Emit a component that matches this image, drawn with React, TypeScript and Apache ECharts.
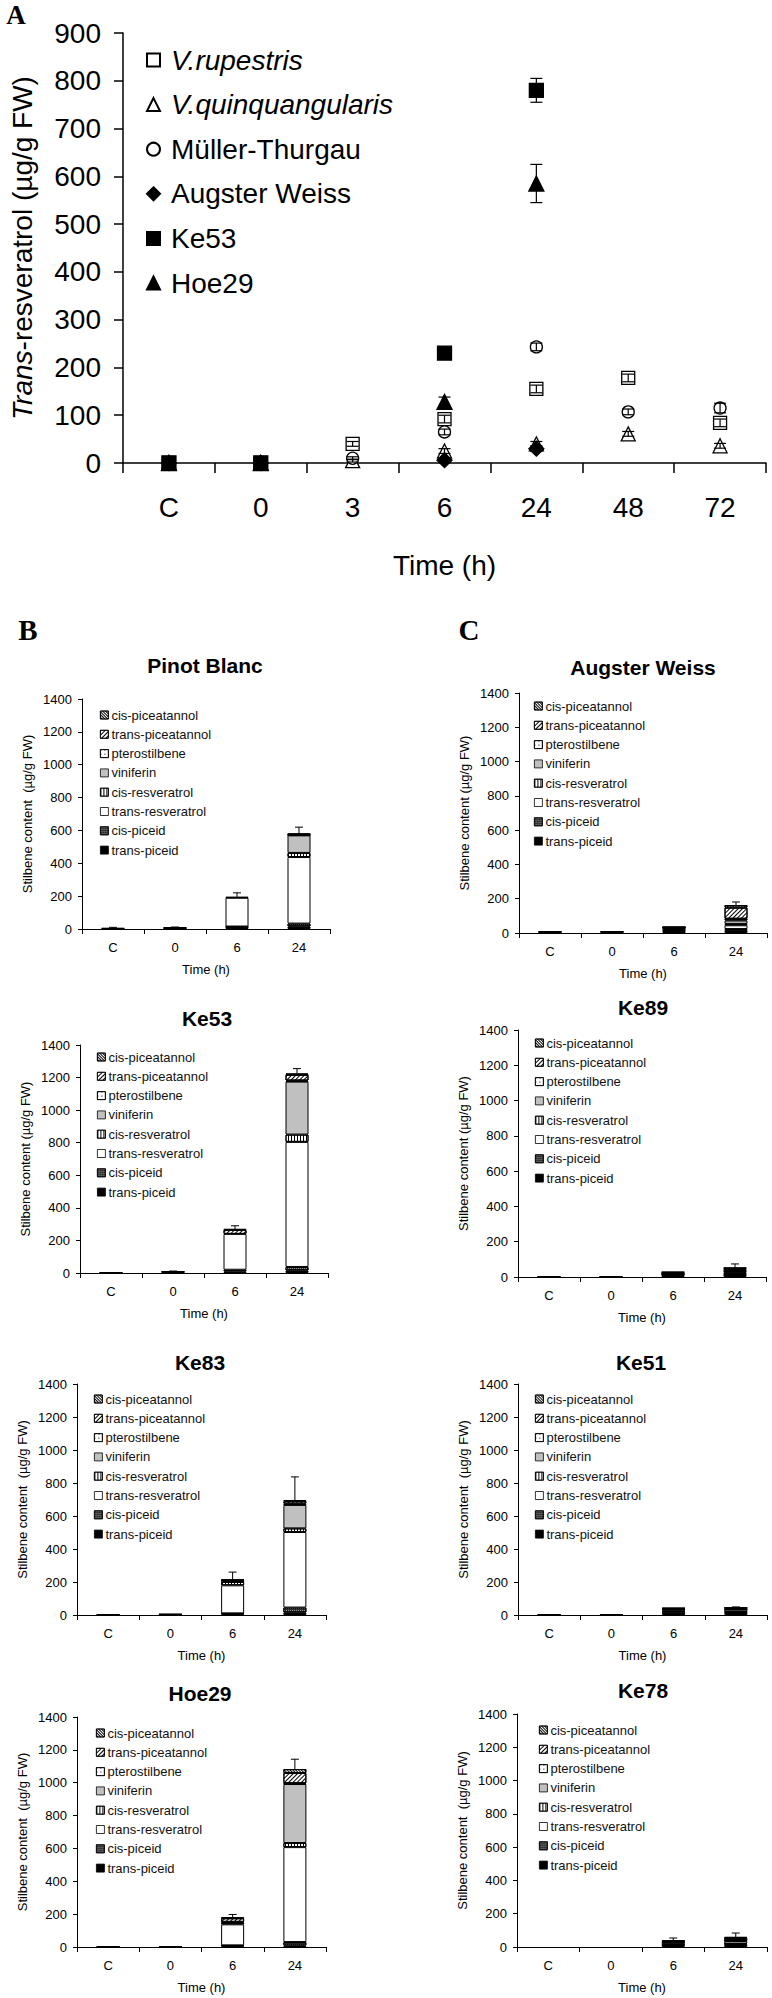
import React, { useEffect, useRef } from 'react';
import * as echarts from 'echarts';

// ---------- Panel A data ----------
const TIME_A = ['C', '0', '3', '6', '24', '48', '72'];
const GENOTYPES_A = ['V.rupestris', 'V.quinquangularis', 'Müller-Thurgau', 'Augster Weiss', 'Ke53', 'Hoe29'];
const Y_TICKS_A = [0, 900, 100];

const vRupestris = [0, 0, 40, 92, 155, 178, 84];
const vRupestrisErr = [0, 0, 5, 8, 8, 8, 8];
const vQuinquangularis = [0, 0, 5, 25, 40, 61, 36];
const vQuinquangularisErr = [0, 0, 3, 5, 5, 5, 5];
const mullerThurgau = [0, 0, 10, 65, 243, 107, 115];
const mullerThurgauErr = [0, 0, 3, 6, 8, 6, 10];
const augsterWeissA = [0, 0, null, 6, 30, null, null];
const augsterWeissAErr = [0, 0, 0, 4, 6, 0, 0];
const ke53A = [0, 0, null, 230, 780, null, null];
const ke53AErr = [0, 0, 0, 12, 25, 0, 0];
const hoe29A = [0, 0, null, 128, 585, null, null];
const hoe29AErr = [0, 0, 0, 10, 40, 0, 0];

// ---------- Panels B / C data ----------
const TIME_B = ['C', '0', '6', '24'];
const Y_TICKS_B = [0, 1400, 200];
// stacking order (bottom -> top)
const COMPOUNDS = ['trans-piceid', 'cis-piceid', 'trans-resveratrol', 'cis-resveratrol', 'viniferin', 'pterostilbene', 'trans-piceatannol', 'cis-piceatannol'];
const LEGEND_ORDER = ['cis-piceatannol', 'trans-piceatannol', 'pterostilbene', 'viniferin', 'cis-resveratrol', 'trans-resveratrol', 'cis-piceid', 'trans-piceid'];

// rows follow COMPOUNDS, columns follow TIME_B
const pinotBlanc = [
  [3, 5, 12, 15],
  [0, 1, 3, 18],
  [2, 4, 175, 405],
  [0, 0, 5, 25],
  [0, 0, 0, 107],
  [0, 0, 0, 3],
  [0, 0, 0, 3],
  [0, 0, 0, 4],
];
const pinotBlancErr = [5, 2, 25, 40];

const ke53 = [
  [2, 5, 10, 15],
  [0, 2, 10, 22],
  [1, 3, 220, 768],
  [0, 0, 0, 45],
  [0, 0, 0, 325],
  [0, 0, 0, 7],
  [0, 0, 25, 35],
  [0, 0, 5, 8],
];
const ke53Err = [0, 2, 20, 30];

const ke83 = [
  [2, 3, 8, 15],
  [0, 1, 2, 30],
  [1, 1, 170, 458],
  [0, 0, 20, 22],
  [0, 0, 0, 142],
  [0, 0, 0, 8],
  [0, 0, 12, 15],
  [0, 0, 3, 7],
];
const ke83Err = [0, 0, 45, 140];

const hoe29 = [
  [2, 2, 8, 10],
  [0, 0, 2, 20],
  [1, 1, 128, 578],
  [0, 0, 10, 25],
  [0, 0, 0, 359],
  [0, 0, 5, 5],
  [0, 0, 22, 62],
  [0, 0, 5, 24],
];
const hoe29Err = [0, 0, 18, 60];

const augsterWeiss = [
  [6, 6, 28, 18],
  [1, 1, 2, 5],
  [1, 1, 2, 22],
  [0, 0, 1, 8],
  [0, 0, 0, 20],
  [0, 0, 0, 10],
  [0, 0, 2, 65],
  [0, 0, 0, 15],
];
const augsterWeissErr = [0, 0, 0, 18];

const ke89 = [
  [2, 2, 12, 15],
  [0, 0, 2, 3],
  [1, 1, 4, 6],
  [0, 0, 2, 10],
  [0, 0, 0, 2],
  [0, 0, 0, 5],
  [0, 0, 6, 8],
  [0, 0, 2, 3],
];
const ke89Err = [0, 0, 0, 22];

const ke51 = [
  [2, 2, 20, 18],
  [0, 0, 3, 3],
  [1, 1, 10, 12],
  [0, 0, 2, 2],
  [0, 0, 0, 0],
  [0, 0, 0, 0],
  [0, 0, 5, 8],
  [0, 0, 2, 2],
];
const ke51Err = [0, 0, 0, 4];

const ke78 = [
  [0, 0, 15, 18],
  [0, 0, 2, 3],
  [0, 0, 10, 15],
  [0, 0, 2, 3],
  [0, 0, 0, 2],
  [0, 0, 0, 2],
  [0, 0, 8, 12],
  [0, 0, 3, 5],
];
const ke78Err = [0, 0, 14, 24];

// ---------- layout / style ----------
const SANS = '"Liberation Sans", Arial, sans-serif';
const SERIF = '"Liberation Serif", "Times New Roman", serif';
const Y1 = 'Stilbene content (µg/g FW)';
const Y2 = 'Stilbene content  (µg/g FW)';

const PANELS = [
  { title: 'Pinot Blanc', values: pinotBlanc, err: pinotBlancErr, yName: Y2, grid: { left: 82, top: 699, width: 248, height: 230 }, tp: [205, 665], lp: [100, 715] },
  { title: 'Ke53', values: ke53, err: ke53Err, yName: Y1, grid: { left: 80, top: 1045, width: 248, height: 228 }, tp: [207, 1018], lp: [97, 1057] },
  { title: 'Ke83', values: ke83, err: ke83Err, yName: Y2, grid: { left: 77, top: 1384, width: 249, height: 231 }, tp: [200, 1362], lp: [94, 1399] },
  { title: 'Hoe29', values: hoe29, err: hoe29Err, yName: Y2, grid: { left: 77, top: 1717, width: 249, height: 230 }, tp: [200, 1693], lp: [96, 1733] },
  { title: 'Augster Weiss', values: augsterWeiss, err: augsterWeissErr, yName: Y1, grid: { left: 519, top: 693, width: 248, height: 240 }, tp: [643, 667], lp: [534, 706] },
  { title: 'Ke89', values: ke89, err: ke89Err, yName: Y1, grid: { left: 518, top: 1030, width: 248, height: 247 }, tp: [643, 1007], lp: [535, 1043] },
  { title: 'Ke51', values: ke51, err: ke51Err, yName: Y2, grid: { left: 518, top: 1384, width: 249, height: 231 }, tp: [641, 1362], lp: [535, 1399] },
  { title: 'Ke78', values: ke78, err: ke78Err, yName: Y2, grid: { left: 517, top: 1714, width: 250, height: 233 }, tp: [643, 1690], lp: [539, 1730] },
];

const line = (rot: number, gap = 2) => ({
  symbol: 'rect', symbolSize: 1, color: '#000', dashArrayX: [1, 0], dashArrayY: [1, gap], rotation: rot,
});

const COMPOUND_STYLE: Record<string, any> = {
  'trans-piceid': { color: '#000' },
  'cis-piceid': { color: '#2a2a2a', decal: { symbol: 'rect', symbolSize: 1, color: '#9a9a9a', dashArrayX: [1, 1], dashArrayY: [1, 1] } },
  'trans-resveratrol': { color: '#fff' },
  'cis-resveratrol': { color: '#fff', decal: { symbol: 'rect', symbolSize: 1, color: '#000', dashArrayX: [1, 2], dashArrayY: [1, 0] } },
  'viniferin': { color: '#c0c0c0' },
  'pterostilbene': { color: '#fff', decal: { symbol: 'rect', symbolSize: 1, color: '#000', dashArrayX: [1, 3], dashArrayY: [1, 3] } },
  'trans-piceatannol': { color: '#fff', decal: line(-Math.PI / 4, 2) },
  'cis-piceatannol': { color: '#fff', decal: line(Math.PI / 4, 1) },
};

const A_SERIES = [
  { name: GENOTYPES_A[0], data: vRupestris, err: vRupestrisErr, symbol: 'rect', size: 13, fill: '#fff' },
  { name: GENOTYPES_A[1], data: vQuinquangularis, err: vQuinquangularisErr, symbol: 'triangle', size: 14, fill: '#fff' },
  { name: GENOTYPES_A[2], data: mullerThurgau, err: mullerThurgauErr, symbol: 'circle', size: 12, fill: '#fff' },
  { name: GENOTYPES_A[3], data: augsterWeissA, err: augsterWeissAErr, symbol: 'diamond', size: 15, fill: '#000' },
  { name: GENOTYPES_A[4], data: ke53A, err: ke53AErr, symbol: 'rect', size: 14, fill: '#000' },
  { name: GENOTYPES_A[5], data: hoe29A, err: hoe29AErr, symbol: 'triangle', size: 15, fill: '#000' },
];

function buildOption() {
  const grid: any[] = [{ left: 120, top: 33, width: 646, height: 430 }];
  const xAxis: any[] = [{
    type: 'category', gridIndex: 0, data: TIME_A, boundaryGap: true,
    axisLine: { show: true, lineStyle: { color: '#000', width: 1.5 } },
    axisTick: { show: true, length: 10, interval: 0, alignWithLabel: false, lineStyle: { color: '#000', width: 1.5 } },
    axisLabel: { fontSize: 28, color: '#000', margin: 30, fontFamily: SANS, interval: 0 },
    name: 'Time (h)', nameLocation: 'middle', nameGap: 88,
    nameTextStyle: { fontSize: 28, color: '#000', fontFamily: SANS },
  }];
  const yAxis: any[] = [{
    type: 'value', gridIndex: 0, min: Y_TICKS_A[0], max: Y_TICKS_A[1], interval: Y_TICKS_A[2],
    axisLine: { show: true, lineStyle: { color: '#000', width: 1.5 } },
    axisTick: { show: true, length: 9, lineStyle: { color: '#000', width: 1.5 } },
    splitLine: { show: false },
    axisLabel: { fontSize: 28, color: '#000', margin: 22, fontFamily: SANS, formatter: (v: number) => String(v) },
    name: '{i|Trans}-resveratrol (µg/g FW)', nameLocation: 'middle', nameGap: 87,
    nameTextStyle: { fontSize: 28, color: '#000', fontFamily: SANS, rich: { i: { fontSize: 28, fontStyle: 'italic', color: '#000', fontFamily: SANS } } },
  }];
  const series: any[] = [];
  const legend: any[] = [];
  const graphic: any[] = [];

  A_SERIES.forEach((s) => {
    series.push({
      type: 'scatter', name: s.name, xAxisIndex: 0, yAxisIndex: 0,
      symbol: s.symbol, symbolSize: s.size,
      data: s.data.map((v, i) => (v == null ? null : [i, v])).filter((d) => d),
      itemStyle: { color: s.fill, borderColor: '#000', borderWidth: 1.3, opacity: 1 },
      emphasis: { disabled: true },
    });
  });
  A_SERIES.forEach((s) => {
    const ed = s.data.map((v, i) => (v == null || !s.err[i] ? null : [i, v, s.err[i]])).filter((d) => d);
    series.push({
      type: 'custom', name: s.name + '-err', xAxisIndex: 0, yAxisIndex: 0, z: 5, silent: true,
      data: ed,
      renderItem: (params: any, api: any) => {
        const i = api.value(0), v = api.value(1), e = api.value(2);
        const lo = api.coord([i, v - e]);
        const hi = api.coord([i, v + e]);
        const st = { stroke: '#000', lineWidth: 1.2 };
        return {
          type: 'group', children: [
            { type: 'line', shape: { x1: lo[0], y1: lo[1], x2: hi[0], y2: hi[1] }, style: st },
            { type: 'line', shape: { x1: hi[0] - 6, y1: hi[1], x2: hi[0] + 6, y2: hi[1] }, style: st },
            { type: 'line', shape: { x1: lo[0] - 6, y1: lo[1], x2: lo[0] + 6, y2: lo[1] }, style: st },
          ],
        };
      },
    });
  });

  legend.push({
    orient: 'vertical', left: 146, top: 45, padding: 0, itemWidth: 13, itemHeight: 13, itemGap: 14.6,
    selectedMode: false, data: GENOTYPES_A,
    formatter: (n: string) => (n.startsWith('V.') ? '{i|' + n + '}' : '{n|' + n + '}'),
    textStyle: {
      fontSize: 28, lineHeight: 30, color: '#000', fontFamily: SANS,
      rich: {
        i: { fontSize: 28, lineHeight: 30, fontStyle: 'italic', color: '#000', fontFamily: SANS, padding: [0, 0, 0, 6] },
        n: { fontSize: 28, lineHeight: 30, color: '#000', fontFamily: SANS, padding: [0, 0, 0, 6] },
      },
    },
  });

  graphic.push({ type: 'text', x: 16, y: 15, silent: true, style: { text: 'A', font: `bold 27px ${SERIF}`, fill: '#000', textAlign: 'center', textVerticalAlign: 'middle' } });
  graphic.push({ type: 'text', x: 28, y: 630, silent: true, style: { text: 'B', font: `bold 29px ${SERIF}`, fill: '#000', textAlign: 'center', textVerticalAlign: 'middle' } });
  graphic.push({ type: 'text', x: 469, y: 630, silent: true, style: { text: 'C', font: `bold 29px ${SERIF}`, fill: '#000', textAlign: 'center', textVerticalAlign: 'middle' } });

  PANELS.forEach((p, pi) => {
    const gi = pi + 1;
    grid.push(p.grid);
    xAxis.push({
      type: 'category', gridIndex: gi, data: TIME_B, boundaryGap: true,
      axisLine: { show: true, lineStyle: { color: '#000', width: 1 } },
      axisTick: { show: true, length: 5, interval: 0, alignWithLabel: false, lineStyle: { color: '#000' } },
      axisLabel: { fontSize: 13, color: '#000', margin: 12, fontFamily: SANS, interval: 0 },
      name: 'Time (h)', nameLocation: 'middle', nameGap: 34,
      nameTextStyle: { fontSize: 13, color: '#000', fontFamily: SANS },
    });
    yAxis.push({
      type: 'value', gridIndex: gi, min: Y_TICKS_B[0], max: Y_TICKS_B[1], interval: Y_TICKS_B[2],
      axisLine: { show: true, lineStyle: { color: '#000', width: 1 } },
      axisTick: { show: true, length: 4, lineStyle: { color: '#000' } },
      splitLine: { show: false },
      axisLabel: { fontSize: 13, color: '#000', margin: 10, fontFamily: SANS, formatter: (v: number) => String(v) },
      name: p.yName, nameLocation: 'middle', nameGap: 48,
      nameTextStyle: { fontSize: 13, color: '#000', fontFamily: SANS },
    });
    COMPOUNDS.forEach((c, ci) => {
      const st = COMPOUND_STYLE[c];
      series.push({
        type: 'bar', name: c, xAxisIndex: gi, yAxisIndex: gi, stack: 'p' + gi, barWidth: 23,
        data: p.values[ci].map((v) => (v ? v : null)),
        itemStyle: { color: st.color, decal: st.decal, borderColor: '#000', borderWidth: 1 },
        emphasis: { disabled: true },
      });
    });
    const totals = TIME_B.map((_, ti) => p.values.reduce((s, row) => s + row[ti], 0));
    series.push({
      type: 'custom', name: p.title + '-err', xAxisIndex: gi, yAxisIndex: gi, z: 5, silent: true,
      data: p.err.map((e, i) => (e ? [i, totals[i], e] : null)).filter((d) => d),
      renderItem: (params: any, api: any) => {
        const i = api.value(0), t = api.value(1), e = api.value(2);
        const lo = api.coord([i, t]);
        const hi = api.coord([i, t + e]);
        const s2 = { stroke: '#000', lineWidth: 1 };
        return {
          type: 'group', children: [
            { type: 'line', shape: { x1: lo[0], y1: lo[1], x2: hi[0], y2: hi[1] }, style: s2 },
            { type: 'line', shape: { x1: hi[0] - 4, y1: hi[1], x2: hi[0] + 4, y2: hi[1] }, style: s2 },
          ],
        };
      },
    });
    legend.push({
      orient: 'vertical', left: p.lp[0], top: p.lp[1] - 7, padding: 0, itemWidth: 8, itemHeight: 8, itemGap: 5.3,
      icon: 'rect',
      selectedMode: false, data: LEGEND_ORDER,
      itemStyle: { borderColor: '#000', borderWidth: 0.8 },
      textStyle: { fontSize: 13, lineHeight: 14, color: '#111', fontFamily: SANS, padding: [0, 0, 0, -2] },
    });
    graphic.push({ type: 'text', x: p.tp[0], y: p.tp[1], silent: true, style: { text: p.title, font: `bold 21px ${SANS}`, fill: '#000', textAlign: 'center', textVerticalAlign: 'middle' } });
  });

  return {
    animation: false,
    backgroundColor: '#fff',
    textStyle: { fontFamily: SANS },
    grid, xAxis, yAxis, series, legend, graphic,
  };
}

export default function App() {
  const ref = useRef<HTMLDivElement>(null);
  useEffect(() => {
    if (!ref.current) return;
    const chart = echarts.init(ref.current, undefined, { renderer: 'svg' });
    chart.setOption(buildOption() as any);
    return () => chart.dispose();
  }, []);
  return <div ref={ref} style={{ position: 'absolute', left: 0, top: 0, width: 772, height: 1998 }} />;
}
